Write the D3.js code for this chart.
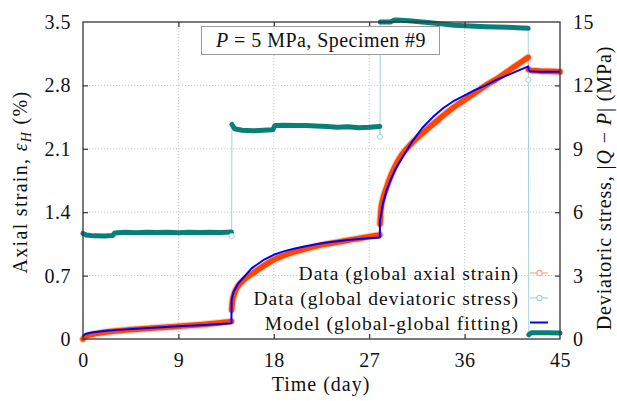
<!DOCTYPE html>
<html><head><meta charset="utf-8">
<script src="https://cdn.jsdelivr.net/npm/d3@7"></script>
<style>
html,body{margin:0;padding:0;background:#fff;}
text{font-family:"Liberation Serif","Times New Roman",serif;fill:#111;}
</style></head>
<body><svg id="c" width="617" height="401"></svg>
<script>
// ---------- data ----------
const xTicks = [0, 9, 18, 27, 36, 45];
const yTicksStrain = [0, 0.7, 1.4, 2.1, 2.8, 3.5];
const yTicksStress = [0, 3, 6, 9, 12, 15];
const stageBreaks = [14, 28, 42];

// measured axial strain (%)
const strainT = [0, 0.1, 0.3, 0.6, 1, 1.5, 2, 3, 4, 5, 6, 7, 8, 9, 10, 11, 12, 13, 14,
  14.02, 14.1, 14.3, 14.6, 15, 15.5, 16, 17, 18, 19, 20, 21, 22, 23, 24, 25, 26, 27, 28,
  28.02, 28.1, 28.3, 28.6, 29, 29.5, 30, 31, 32, 33, 34, 35, 36, 37, 38, 39, 40, 41, 42,
  42.02, 42.3, 43, 44, 45];
const strainV = [0, 0.015, 0.03, 0.045, 0.055, 0.065, 0.075, 0.088, 0.098, 0.108, 0.117, 0.125, 0.133, 0.14, 0.148, 0.158, 0.168, 0.18, 0.195,
  0.32, 0.42, 0.51, 0.58, 0.635, 0.685, 0.725, 0.805, 0.875, 0.925, 0.965, 0.995, 1.025, 1.05, 1.07, 1.09, 1.11, 1.13, 1.15,
  1.27, 1.42, 1.55, 1.66, 1.79, 1.92, 2.02, 2.16, 2.27, 2.37, 2.47, 2.56, 2.64, 2.72, 2.8, 2.87, 2.95, 3.03, 3.11,
  2.975, 2.965, 2.96, 2.955, 2.95];

// measured deviatoric stress (MPa)
const stressT = [0, 0.3, 1, 2, 2.8, 3, 4, 5, 6, 7, 8, 9, 10, 11, 12, 13, 14,
  14.05, 14.3, 15, 16, 17, 17.9, 18.1, 19, 20, 21, 22, 23, 24, 25, 26, 27, 28,
  28.05, 29, 29.4, 30, 31, 32, 33, 34, 35, 36, 37, 38, 39, 40, 41, 42,
  42.05, 42.3, 43, 44, 45];
const stressV = [5.0, 4.92, 4.88, 4.87, 4.9, 5.02, 5.05, 5.03, 5.05, 5.04, 5.05, 5.03, 5.05, 5.04, 5.05, 5.04, 5.06,
  10.15, 9.95, 9.88, 9.85, 9.88, 9.9, 10.1, 10.12, 10.1, 10.1, 10.08, 10.05, 10.02, 10.04, 10.0, 10.02, 10.06,
  15.0, 15.0, 15.1, 15.08, 15.05, 15.0, 14.95, 14.9, 14.85, 14.82, 14.8, 14.78, 14.76, 14.75, 14.73, 14.7,
  0.2, 0.3, 0.3, 0.3, 0.28];
// single samples logged during each load step
const stressStepT = [14.02, 28.02, 42.02];
const stressStepV = [4.87, 9.57, 12.26];

// model (global-global fitting), axial strain (%)
const modelT = [0, 0.1, 0.3, 0.6, 1, 2, 3, 5, 7, 9, 11, 13, 14,
  14.02, 14.2, 14.65, 15, 15.9, 17, 18, 19, 20, 21, 22, 23, 24, 25, 26, 27, 28,
  28.02, 28.3, 28.65, 29, 29.5, 30, 31, 32, 33, 34, 35, 36, 37, 38, 39, 40, 41, 42,
  42.05, 42.2, 43, 44, 45];
const modelV = [0.03, 0.045, 0.058, 0.066, 0.074, 0.088, 0.098, 0.113, 0.127, 0.14, 0.152, 0.165, 0.173,
  0.43, 0.52, 0.615, 0.66, 0.78, 0.87, 0.93, 0.97, 1.0, 1.025, 1.045, 1.065, 1.08, 1.093, 1.103, 1.112, 1.12,
  1.31, 1.5, 1.64, 1.75, 1.88, 1.98, 2.17, 2.33, 2.45, 2.55, 2.63, 2.69, 2.75, 2.8, 2.86, 2.91, 2.96, 3.01,
  2.97, 2.955, 2.95, 2.95, 2.95];

const legendLabels = ["Data (global axial strain)", "Data (global deviatoric stress)", "Model (global-global fitting)"];

// ---------- layout ----------
const W = 617, H = 401;
const m = {l: 83, r: 57, t: 22, b: 62};
const pw = W - m.l - m.r, ph = H - m.t - m.b;
const COL_ORANGE = "#ff4500", COL_ORANGE_L = "#f6ab8e";
const COL_TEAL = "#0a7f7a", COL_TEAL_L = "#a3d5d5";
const COL_BLUE = "#0000ff";

const svg = d3.select("#c");
const g = svg.append("g").attr("transform", `translate(${m.l},${m.t})`);

const x = d3.scaleLinear().domain([0, 45]).range([0, pw]);
const yL = d3.scaleLinear().domain([0, 3.5]).range([ph, 0]);
const yR = d3.scaleLinear().domain([0, 15]).range([ph, 0]);

// grid
const grid = g.append("g");
xTicks.slice(1, -1).forEach(t => grid.append("line")
  .attr("x1", x(t)).attr("x2", x(t)).attr("y1", 0).attr("y2", ph)
  .attr("stroke", "#bbb").attr("stroke-width", 0.8).attr("stroke-dasharray", "1.2,1.8"));
yTicksStrain.slice(1, -1).forEach(t => grid.append("line")
  .attr("y1", yL(t)).attr("y2", yL(t)).attr("x1", 0).attr("x2", pw)
  .attr("stroke", "#bbb").attr("stroke-width", 0.8).attr("stroke-dasharray", "1.2,1.8"));

// helpers
function stages(T, V) {
  const out = [[]];
  T.forEach((t, i) => {
    const cur = out[out.length - 1];
    const idx = stageBreaks.findIndex(b => t <= b);
    const stage = idx < 0 ? stageBreaks.length : idx;
    if (cur.length && cur.stage !== stage) { out.push([]); }
    const c2 = out[out.length - 1];
    c2.stage = stage;
    c2.push([t, V[i]]);
  });
  return out;
}

const stressAll = stressT.map((t, i) => [t, stressV[i]])
  .concat(stressStepT.map((t, i) => [t, stressStepV[i]]))
  .sort((a, b) => a[0] - b[0]);
const lineR = d3.line().x(d => x(d[0])).y(d => yR(d[1]));
const lineL = d3.line().x(d => x(d[0])).y(d => yL(d[1]));

g.append("path").attr("d", lineR(stressAll)).attr("fill", "none")
  .attr("stroke", COL_TEAL_L).attr("stroke-width", 1);
stages(stressT, stressV).forEach(seg => {
  g.append("path").attr("d", lineR.curve(d3.curveLinear)(seg)).attr("fill", "none")
    .attr("stroke", COL_TEAL).attr("stroke-width", 5)
    .attr("stroke-linecap", "round").attr("stroke-linejoin", "round");
});
g.selectAll(".stepc").data(stressStepT).enter().append("circle")
  .attr("cx", d => x(d)).attr("cy", (d, i) => yR(stressStepV[i])).attr("r", 2.6)
  .attr("fill", "#fff").attr("stroke", COL_TEAL_L).attr("stroke-width", 1);

// strain data
const strainAll = strainT.map((t, i) => [t, strainV[i]]);
g.append("path").attr("d", lineL(strainAll)).attr("fill", "none")
  .attr("stroke", COL_ORANGE_L).attr("stroke-width", 1);
stages(strainT, strainV).forEach(seg => {
  g.append("path").attr("d", lineL.curve(d3.curveMonotoneX)(seg)).attr("fill", "none")
    .attr("stroke", COL_ORANGE_L).attr("stroke-width", 7.5).attr("stroke-opacity", 0.6)
    .attr("stroke-linecap", "round").attr("stroke-linejoin", "round");
  g.append("path").attr("d", lineL.curve(d3.curveMonotoneX)(seg)).attr("fill", "none")
    .attr("stroke", COL_ORANGE).attr("stroke-width", 5.5)
    .attr("stroke-linecap", "round").attr("stroke-linejoin", "round");
});

// model
g.append("path").attr("d", lineL.curve(d3.curveLinear)(modelT.map((t, i) => [t, modelV[i]])))
  .attr("fill", "none").attr("stroke", COL_BLUE).attr("stroke-width", 2)
  .attr("stroke-linejoin", "round");

// frame
g.append("rect").attr("x", 0).attr("y", 0).attr("width", pw).attr("height", ph)
  .attr("fill", "none").attr("stroke", "#333").attr("stroke-width", 1.3);

// axes (ticks inward)
const axB = g.append("g").attr("transform", `translate(0,${ph})`)
  .call(d3.axisBottom(x).tickValues(xTicks).tickSizeInner(-5).tickSizeOuter(0).tickPadding(14).tickFormat(d3.format("d")));
const axT = g.append("g").call(d3.axisTop(x).tickValues(xTicks).tickSizeInner(-5).tickSizeOuter(0).tickFormat(""));
const axL = g.append("g").call(d3.axisLeft(yL).tickValues(yTicksStrain).tickSizeInner(-5).tickSizeOuter(0).tickPadding(12).tickFormat(d => d === 0 ? "0" : d3.format(".1f")(d)));
const axR = g.append("g").attr("transform", `translate(${pw},0)`)
  .call(d3.axisRight(yR).tickValues(yTicksStress).tickSizeInner(-5).tickSizeOuter(0).tickPadding(13).tickFormat(d3.format("d")));
[axB, axT, axL, axR].forEach(a => {
  a.select(".domain").remove();
  a.selectAll(".tick line").attr("stroke", "#333").attr("stroke-width", 1.2);
  a.selectAll(".tick text").attr("font-family", "Liberation Serif").attr("font-size", 20).attr("fill", "#111").attr("letter-spacing", 0.5);
});
[axT, axB].forEach(a => a.selectAll(".tick").filter(d => d === 0 || d === 45).select("line").remove());
[axL, axR].forEach(a => a.selectAll(".tick").filter((d, i) => i === 0 || i === 5).select("line").remove());

// title box
const tb = svg.append("g");
tb.append("rect").attr("x", 201.5).attr("y", 26.5).attr("width", 238).attr("height", 28)
  .attr("fill", "#fff").attr("stroke", "#9a9a9a").attr("stroke-width", 1);
const tt = tb.append("text").attr("x", 321).attr("y", 47).attr("text-anchor", "middle").attr("font-size", 20).attr("letter-spacing", 0.45);
tt.append("tspan").attr("font-style", "italic").text("P");
tt.append("tspan").text(" = 5 MPa, Specimen #9");

// legend
const lg = svg.append("g");
const legY = [273, 298, 322.5];
legendLabels.forEach((lab, i) => {
  lg.append("text").attr("x", 519).attr("y", legY[i] + 7).attr("text-anchor", "end")
    .attr("font-size", 19.5).attr("letter-spacing", 1).text(lab);
});
lg.append("line").attr("x1", 530).attr("x2", 548).attr("y1", legY[0]).attr("y2", legY[0]).attr("stroke", COL_ORANGE_L).attr("stroke-width", 1.2);
lg.append("circle").attr("cx", 539.5).attr("cy", legY[0]).attr("r", 2.6).attr("fill", "#fff").attr("stroke", COL_ORANGE_L).attr("stroke-width", 1.2);
lg.append("line").attr("x1", 530).attr("x2", 548).attr("y1", legY[1]).attr("y2", legY[1]).attr("stroke", COL_TEAL_L).attr("stroke-width", 1.2);
lg.append("circle").attr("cx", 539.5).attr("cy", legY[1]).attr("r", 2.6).attr("fill", "#fff").attr("stroke", COL_TEAL_L).attr("stroke-width", 1.2);
lg.append("line").attr("x1", 530).attr("x2", 548).attr("y1", legY[2]).attr("y2", legY[2]).attr("stroke", COL_BLUE).attr("stroke-width", 2);

// axis labels
svg.append("text").attr("x", 321).attr("y", 391).attr("text-anchor", "middle").attr("font-size", 20).attr("letter-spacing", 1).text("Time (day)");
const ll = svg.append("text").attr("transform", "translate(27,182) rotate(-90)").attr("text-anchor", "middle").attr("font-size", 20).attr("letter-spacing", 1.3);
ll.append("tspan").text("Axial strain, ");
ll.append("tspan").attr("font-style", "italic").text("ε");
ll.append("tspan").attr("font-style", "italic").attr("font-size", 14).attr("dy", 4).text("H");
ll.append("tspan").attr("dy", -4).text(" (%)");
const rl = svg.append("text").attr("transform", "translate(611,188) rotate(-90)").attr("text-anchor", "middle").attr("font-size", 20).attr("letter-spacing", 0.9);
rl.append("tspan").text("Deviatoric stress, |");
rl.append("tspan").attr("font-style", "italic").text("Q");
rl.append("tspan").text(" − ");
rl.append("tspan").attr("font-style", "italic").text("P");
rl.append("tspan").text("| (MPa)");
</script></body></html>
